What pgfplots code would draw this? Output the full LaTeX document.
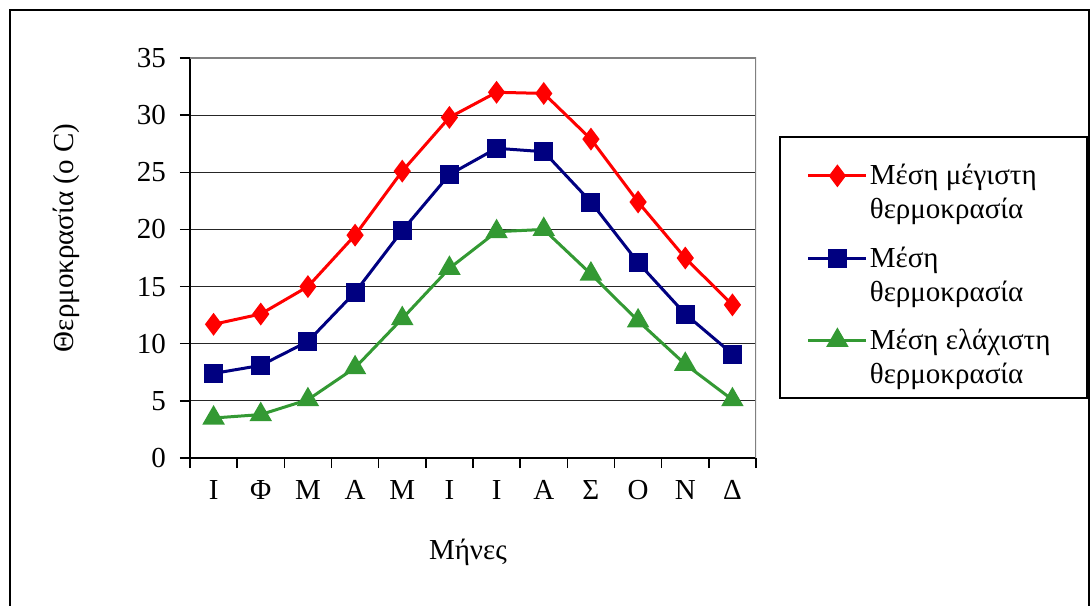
\documentclass[border=0pt]{standalone}
\usepackage{fontspec}
\setmainfont{Liberation Serif}
\usepackage{pgfplots}
\pgfplotsset{compat=1.18}
\definecolor{cred}{RGB}{255,0,0}
\definecolor{cblue}{RGB}{0,0,128}
\definecolor{cgreen}{RGB}{51,153,51}
\pgfplotstableread{
x max mean min
1 11.7 7.4 3.5
2 12.6 8.1 3.8
3 15.0 10.2 5.1
4 19.5 14.5 7.9
5 25.1 19.9 12.2
6 29.8 24.8 16.6
7 32.0 27.1 19.8
8 31.9 26.8 20.0
9 27.9 22.4 16.1
10 22.4 17.1 12.0
11 17.5 12.6 8.2
12 13.4 9.1 5.1
}\datatable
\begin{document}
\fontsize{14.5}{17}\selectfont
\begin{tikzpicture}
\useasboundingbox (-95pt,-73.5pt) rectangle (450pt,229pt);
\draw[black, line width=0.75pt] (-90pt,-80pt) -- (-90pt,224pt) -- (449.5pt,224pt) -- (449.5pt,-80pt);
\begin{axis}[
  at={(0pt,0pt)}, anchor=south west,
  scale only axis, width=283pt, height=200pt,
  xmin=0.5, xmax=12.5, ymin=0, ymax=35,
  axis x line*=bottom, axis y line*=left,
  axis line style={black, line width=0.9pt, -},
  xtick={0.5,1.5,...,12.5}, xticklabels={},
  extra x ticks={1,2,...,12},
  extra x tick labels={Ι,Φ,Μ,Α,Μ,Ι,Ι,Α,Σ,Ο,Ν,Δ},
  extra x tick style={major tick length=0pt, grid=none},
  ytick={0,5,...,35},
  tick align=outside, major tick length=5pt,
  tick style={black, line width=0.75pt},
  ymajorgrids, grid style={black!85, line width=0.6pt},
  /pgf/number format/assume math mode=true,
  tick label style={font=\fontsize{14.5}{17}\selectfont},
  yticklabel style={xshift=-2pt},
  xticklabel style={yshift=-6pt},
  xlabel={Μήνες},
  every axis x label/.style={at={(axis description cs:0.491,0)}, yshift=-47pt, anchor=center},
  ylabel={Θερμοκρασία (ο C)},
  every axis y label/.style={at={(axis description cs:-0.219,0.55)}, rotate=90, anchor=center},
  legend style={at={(axis description cs:1.0636,0.74)}, anchor=north west,
    draw=none, fill=none, inner xsep=0pt, inner ysep=0pt,
    row sep=9.75pt,
    nodes={align=left, inner sep=1pt, font=\fontsize{14.5}{17}\selectfont}},
  legend cell align=left,
  legend image code/.code={\path[draw=none,fill=none] (0pt,9pt) -- (0pt,9pt);
    \draw[mark repeat=2,mark phase=2] plot coordinates {(8pt,9pt)(22.5pt,9pt)(37pt,9pt)};},
]
\addplot[cred, line width=1.5pt, mark=diamond*, mark size=4.5pt, mark options={solid}] table[x=x,y=max]{\datatable};
\addlegendentry{Μέση μέγιστη\\θερμοκρασία}
\addplot[cblue, line width=1.5pt, mark=square*, mark size=4pt] table[x=x,y=mean]{\datatable};
\addlegendentry{Μέση\\θερμοκρασία}
\addplot[cgreen, line width=1.5pt, mark=triangle*, mark size=5pt] table[x=x,y=min]{\datatable};
\addlegendentry{Μέση ελάχιστη\\θερμοκρασία}
\draw[gray, line width=1pt] (rel axis cs:0,1) -- (rel axis cs:1,1) -- (rel axis cs:1,0);
\end{axis}
\draw[black, line width=0.75pt] (295pt,160.5pt) rectangle (448.5pt,30pt);
\end{tikzpicture}
\end{document}
